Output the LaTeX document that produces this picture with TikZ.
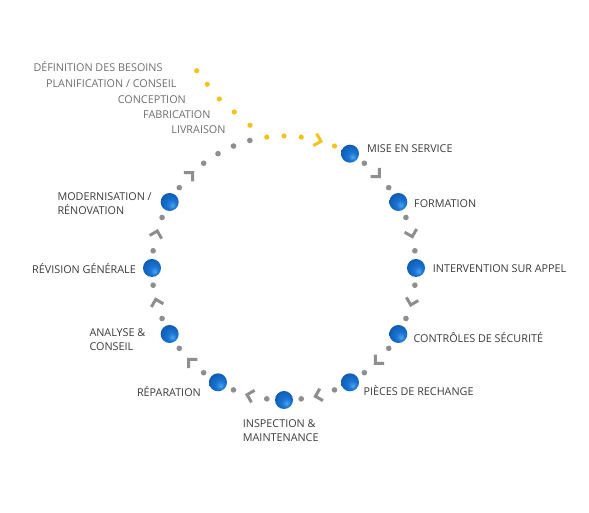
\documentclass[tikz,border=0pt]{standalone}
\usepackage{fontspec}
\setmainfont{Open Sans}
\definecolor{lab}{HTML}{3C3C3C}
\definecolor{toplab}{HTML}{707070}
\definecolor{dotgray}{HTML}{8E8E8E}
\definecolor{ylw}{HTML}{F2C31C}
\definecolor{bA}{HTML}{4AA6EE}
\definecolor{bB}{HTML}{1A74D2}
\definecolor{bC}{HTML}{0D56AE}
\definecolor{bD}{HTML}{0A4590}
\pgfdeclareradialshading{blueball}{\pgfpoint{8bp}{-10bp}}{color(0bp)=(bA); color(12bp)=(bB); color(34bp)=(bC); color(50bp)=(bD)}
\tikzset{
  ball/.style={circle, minimum size=18pt, inner sep=0pt, shading=blueball},
  gdot/.style={circle, fill=dotgray, minimum size=5.6pt, inner sep=0pt},
  ydot/.style={circle, fill=ylw, minimum size=5.2pt, inner sep=0pt},
  chev/.style={line width=3pt, line join=miter},
  lbl/.style={inner sep=0pt, text=lab, font=\fontsize{10.8}{13.8}\selectfont},
  toplbl/.style={inner sep=0pt, text=toplab, font=\fontsize{10.8}{13.8}\selectfont, anchor=base east},
}
\begin{document}
\begin{tikzpicture}[x=1pt,y=1pt]
\fill[white] (0,0) rectangle (589,513);
\useasboundingbox (0,0) rectangle (589,513);
\begin{scope}[shift={(284,245)}]
  % gray dots
  \foreach \a in {52.5,37.5,22.5,7.5,-7.5,-22.5,-37.5,-52.5,-67.5,-82.5,-97.5,-112.5,-127.5,-142.5,-157.5,-172.5,172.5,157.5,142.5,127.5,120,112.5,105}
    \node[gdot] at (\a:132pt) {};
  % gray chevrons
  \foreach \a in {45,15,-15,-45,-75,-105,-135,-165,165,135}
    \draw[chev, draw=dotgray, shift={(\a:132pt)}, rotate=\a] (6.2,3.3) -- (0,-2.9) -- (-6.2,3.3);
  % yellow part on the circle
  \foreach \a in {97.5,90,82.5,67.5}
    \node[ydot] at (\a:132pt) {};
  \draw[chev, draw=ylw, shift={(75:132pt)}, rotate=75] (6.2,3.3) -- (0,-2.9) -- (-6.2,3.3);
  % blue nodes
  \node[ball] (b1) at (60:132pt) {};
  \node[ball] (b2) at (30:132pt) {};
  \node[ball] (b3) at (0:132pt) {};
  \node[ball] (b4) at (-30:132pt) {};
  \node[ball] (b5) at (-60:132pt) {};
  \node[ball] (b6) at (-90:132pt) {};
  \node[ball] (b7) at (-120:132pt) {};
  \node[ball] (b8) at (-150:132pt) {};
  \node[ball] (b9) at (180:132pt) {};
  \node[ball] (b10) at (150:132pt) {};
\end{scope}
% yellow lead-in dots
\node[ydot] (y1) at (196.7,442.3) {};
\node[ydot] (y2) at (207.3,428.7) {};
\node[ydot] (y3) at (219.3,414) {};
\node[ydot] (y4) at (234.3,401) {};
\node[ydot] (y5) at (250,387.7) {};
% top labels
\node[toplbl] (t1) at (162.7,441.9) {DÉFINITION DES BESOINS};
\node[toplbl] (t2) at (176.7,425.2) {PLANIFICATION / CONSEIL};
\node[toplbl] (t3) at (186,409.2) {CONCEPTION};
\node[toplbl] (t4) at (210.7,394.9) {FABRICATION};
\node[toplbl] (t5) at (225.7,379.2) {LIVRAISON};
% labels
\node[lbl, anchor=base west] (l1) at (367,360.7) {MISE EN SERVICE};
\node[lbl, anchor=base west] (l2) at (414,305.2) {FORMATION};
\node[lbl, anchor=base west] (l3) at (432.7,240.9) {INTERVENTION SUR APPEL};
\node[lbl, anchor=base west] (l4) at (413.3,170.2) {CONTRÔLES DE SÉCURITÉ};
\node[lbl, anchor=base west] (l5) at (363.3,117.5) {PIÈCES DE RECHANGE};
\node[lbl, anchor=north west, align=left] (l6) at (242.7,93.5) {INSPECTION \&\\MAINTENANCE};
\node[lbl, anchor=base east] (l7) at (201,116.9) {RÉPARATION};
\node[lbl, anchor=north west, align=left] (l8) at (89.3,184.1) {ANALYSE \&\\CONSEIL};
\node[lbl, anchor=base east] (l9) at (136,239.9) {RÉVISION GÉNÉRALE};
\node[lbl, anchor=north west, align=left] (l10) at (57.3,320.8) {MODERNISATION /\\RÉNOVATION};
\end{tikzpicture}
\end{document}
